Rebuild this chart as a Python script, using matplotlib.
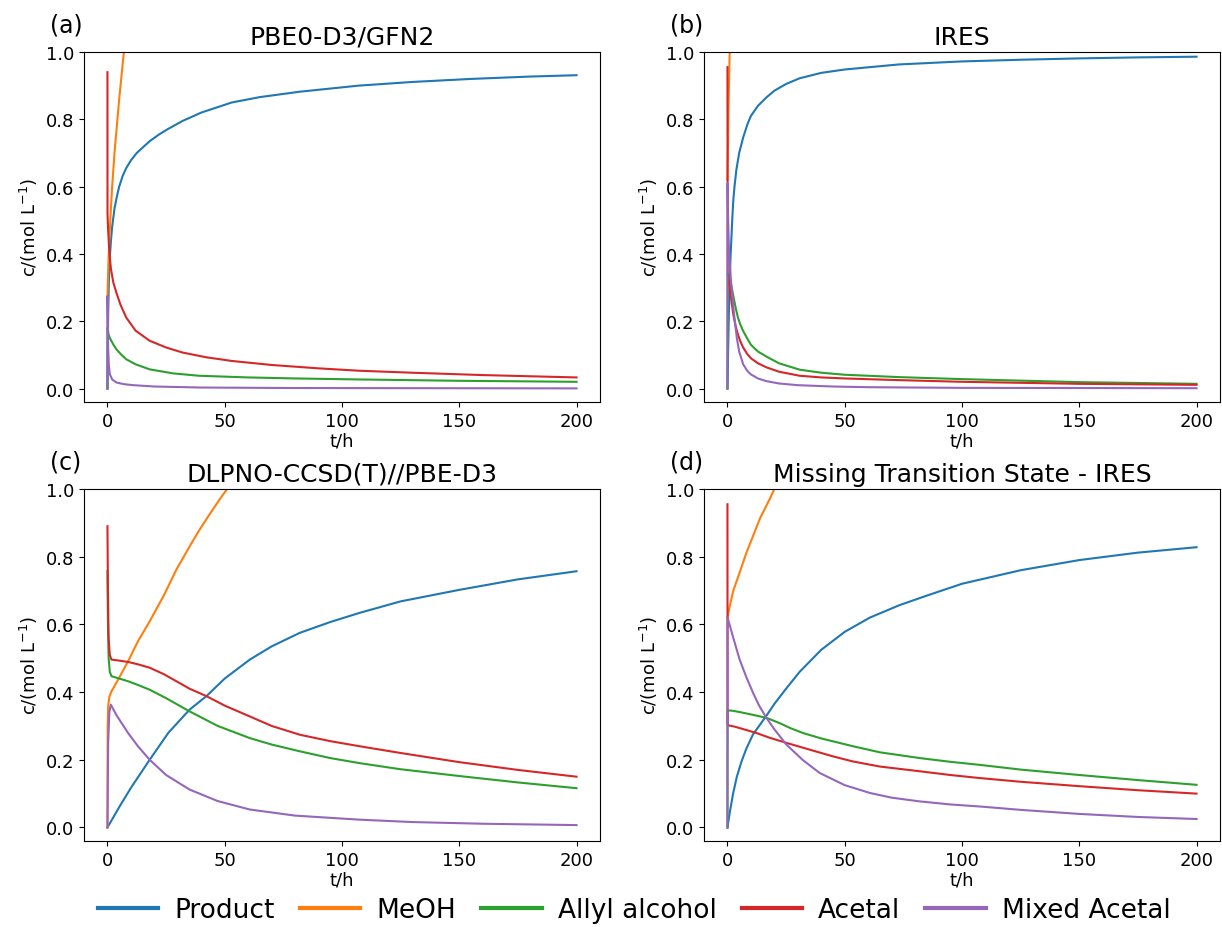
import matplotlib
matplotlib.use("Agg")
import matplotlib.pyplot as plt

names = ["Product", "MeOH", "Allyl alcohol", "Acetal", "Mixed Acetal"]
colors = ["tab:blue", "tab:orange", "tab:green", "tab:red", "tab:purple"]

# (a) PBE0-D3/GFN2
a_prod_t = [0, 0.3, 0.6, 1, 1.5, 2, 3, 4, 5, 6.5, 8, 10, 12.5, 15, 18, 22, 26, 32, 40, 53, 65, 82, 107, 130, 155, 180, 200]
a_prod_c = [0, 0.22, 0.32, 0.39, 0.44, 0.48, 0.535, 0.57, 0.6, 0.632, 0.655, 0.678, 0.7, 0.716, 0.735, 0.755, 0.772,
            0.795, 0.82, 0.85, 0.866, 0.882, 0.9, 0.911, 0.92, 0.927, 0.931]
a_meoh_t = [0, 0.3, 0.6, 1, 1.5, 2, 3, 4, 5, 6, 7, 8]
a_meoh_c = [0.275, 0.35, 0.41, 0.47, 0.54, 0.6, 0.7, 0.78, 0.86, 0.93, 1.0, 1.06]
a_allyl_t = [0, 0.05, 0.5, 1, 2.4, 4, 6, 8, 12, 18, 28, 39, 60, 80, 107, 150, 200]
a_allyl_c = [0, 0.181, 0.16, 0.15, 0.132, 0.115, 0.1, 0.087, 0.072, 0.057, 0.045, 0.038, 0.033, 0.03, 0.027, 0.023, 0.02]
a_acetal_t = [0, 0.02, 0.3, 0.6, 1, 1.5, 2.5, 3.8, 5.5, 8, 12, 18, 25, 32, 42, 53, 70, 90, 107, 130, 160, 200]
a_acetal_c = [0.94, 0.52, 0.47, 0.43, 0.39, 0.355, 0.315, 0.285, 0.25, 0.211, 0.172, 0.142, 0.122, 0.107, 0.093,
              0.082, 0.07, 0.06, 0.053, 0.047, 0.04, 0.033]
a_mixed_t = [0, 0.03, 0.3, 0.6, 1, 2, 3.8, 7, 11, 20, 40, 80, 200]
a_mixed_c = [0, 0.275, 0.12, 0.07, 0.043, 0.027, 0.018, 0.013, 0.01, 0.006, 0.003, 0.0015, 0.0005]

# (b) IRES
b_prod_t = [0, 0.3, 0.6, 1, 1.3, 1.7, 2.1, 2.5, 3, 3.8, 5, 6.7, 8.5, 10, 13, 16.6, 20, 25, 30.8, 40, 50, 73, 100,
            125, 150, 175, 200]
b_prod_c = [0, 0.12, 0.22, 0.32, 0.39, 0.45, 0.51, 0.56, 0.6, 0.65, 0.7, 0.746, 0.785, 0.81, 0.84, 0.865, 0.885,
            0.905, 0.922, 0.938, 0.948, 0.963, 0.972, 0.977, 0.981, 0.984, 0.986]
b_meoh_t = [0, 0.5, 1, 1.5]
b_meoh_c = [0.62, 0.85, 1.02, 1.15]
b_allyl_t = [0, 0.1, 0.5, 1, 1.7, 2.5, 3.5, 4.5, 5.5, 6.7, 8.5, 10, 13, 16.6, 22, 30.8, 40, 50, 73, 100, 150, 200]
b_allyl_c = [0, 0.34, 0.335, 0.325, 0.305, 0.275, 0.24, 0.21, 0.19, 0.171, 0.148, 0.13, 0.11, 0.095, 0.075, 0.056,
             0.047, 0.041, 0.034, 0.028, 0.019, 0.014]
b_acetal_t = [0, 0.1, 0.5, 1, 1.7, 2.5, 3.5, 4.5, 5.5, 6.7, 8.5, 10, 13, 16.6, 22, 30.8, 40, 50, 73, 100, 150, 200]
b_acetal_c = [0.955, 0.34, 0.32, 0.295, 0.26, 0.22, 0.185, 0.16, 0.14, 0.122, 0.102, 0.09, 0.075, 0.063, 0.05,
              0.038, 0.033, 0.03, 0.025, 0.02, 0.014, 0.011]
b_mixed_t = [0, 0.05, 0.3, 0.6, 1, 1.5, 2, 2.4, 3, 4, 5, 6.7, 8.5, 10, 13, 16.6, 22, 30, 45, 60, 100, 200]
b_mixed_c = [0, 0.61, 0.5, 0.42, 0.37, 0.32, 0.28, 0.25, 0.21, 0.15, 0.11, 0.072, 0.052, 0.042, 0.03, 0.022, 0.015,
             0.01, 0.006, 0.004, 0.002, 0.001]

# (c) DLPNO-CCSD(T)//PBE-D3
c_prod_t = [0, 5, 10, 18, 26, 35, 42.2, 50, 60.7, 70, 82, 95, 107.5, 125, 150, 175, 200]
c_prod_c = [0, 0.06, 0.117, 0.2, 0.28, 0.348, 0.388, 0.44, 0.496, 0.535, 0.575, 0.607, 0.634, 0.668, 0.702, 0.733, 0.757]
c_meoh_t = [0, 0.1, 0.3, 0.8, 1.7, 4, 8.8, 13, 18, 24, 29.4, 35, 39.3, 44, 47.9, 51, 55]
c_meoh_c = [0, 0.3, 0.358, 0.385, 0.402, 0.43, 0.491, 0.55, 0.609, 0.685, 0.762, 0.83, 0.88, 0.93, 0.97, 1.0, 1.04]
c_allyl_t = [0, 0.2, 0.5, 1, 1.7, 5, 8.8, 13, 18, 25, 35, 47, 60.7, 70, 82, 95, 107.5, 125, 150, 175, 200]
c_allyl_c = [0.757, 0.6, 0.5, 0.46, 0.447, 0.44, 0.432, 0.421, 0.407, 0.382, 0.343, 0.3, 0.264, 0.245, 0.225, 0.205,
             0.19, 0.172, 0.152, 0.133, 0.116]
c_acetal_t = [0, 0.2, 0.5, 1, 1.7, 5, 8.8, 13, 18, 24, 29.4, 35, 42.2, 50, 60.7, 70, 82, 95, 107.5, 125, 150, 175, 200]
c_acetal_c = [0.89, 0.7, 0.56, 0.51, 0.496, 0.493, 0.489, 0.482, 0.472, 0.453, 0.432, 0.41, 0.388, 0.36, 0.328, 0.3,
              0.274, 0.255, 0.24, 0.22, 0.193, 0.17, 0.15]
c_mixed_t = [0, 0.3, 0.8, 1.4, 4, 8.8, 13, 18, 25, 35, 47, 60.7, 80, 107.5, 130, 160, 200]
c_mixed_c = [0, 0.25, 0.34, 0.363, 0.33, 0.279, 0.24, 0.2, 0.155, 0.112, 0.078, 0.053, 0.035, 0.023, 0.016, 0.011, 0.007]

# (d) Missing Transition State - IRES
d_prod_t = [0, 1, 2.4, 4, 6, 8, 10.9, 13.5, 16.6, 20, 25, 30.8, 40, 50, 60.7, 73.4, 85, 100, 125, 150, 175, 200]
d_prod_c = [0, 0.045, 0.1, 0.15, 0.195, 0.232, 0.275, 0.3, 0.33, 0.365, 0.41, 0.46, 0.525, 0.578, 0.62, 0.657, 0.685,
            0.72, 0.76, 0.79, 0.812, 0.828]
d_meoh_t = [0, 1, 2.5, 5.2, 8, 10.9, 14, 18, 20, 23]
d_meoh_c = [0.62, 0.655, 0.7, 0.753, 0.81, 0.861, 0.915, 0.97, 1.0, 1.04]
d_allyl_t = [0, 0.05, 2, 5.2, 10, 16.6, 22, 27, 32.2, 40, 53.5, 65, 82, 95, 107.5, 125, 150, 175, 200]
d_allyl_c = [0, 0.346, 0.345, 0.341, 0.334, 0.324, 0.309, 0.293, 0.279, 0.263, 0.24, 0.222, 0.205, 0.194, 0.185,
             0.171, 0.155, 0.14, 0.126]
d_acetal_t = [0, 0.05, 3, 7, 12.4, 18, 25.1, 35, 45, 53.5, 65, 82, 95, 107.5, 125, 150, 175, 200]
d_acetal_c = [0.955, 0.302, 0.298, 0.29, 0.279, 0.265, 0.25, 0.23, 0.21, 0.195, 0.18, 0.166, 0.155, 0.146, 0.135,
              0.122, 0.11, 0.1]
d_mixed_t = [0, 0.05, 2.5, 5.2, 8, 10.9, 13.5, 16.6, 20, 25.1, 32, 39.3, 50, 60.7, 70, 82, 95, 107.5, 125, 150, 175, 200]
d_mixed_c = [0, 0.62, 0.56, 0.496, 0.445, 0.398, 0.36, 0.324, 0.29, 0.245, 0.2, 0.161, 0.125, 0.102, 0.088, 0.077,
             0.068, 0.062, 0.052, 0.04, 0.031, 0.025]

panels = [
    ("(a)", "PBE0-D3/GFN2",
     [(a_prod_t, a_prod_c), (a_meoh_t, a_meoh_c), (a_allyl_t, a_allyl_c), (a_acetal_t, a_acetal_c), (a_mixed_t, a_mixed_c)]),
    ("(b)", "IRES",
     [(b_prod_t, b_prod_c), (b_meoh_t, b_meoh_c), (b_allyl_t, b_allyl_c), (b_acetal_t, b_acetal_c), (b_mixed_t, b_mixed_c)]),
    ("(c)", "DLPNO-CCSD(T)//PBE-D3",
     [(c_prod_t, c_prod_c), (c_meoh_t, c_meoh_c), (c_allyl_t, c_allyl_c), (c_acetal_t, c_acetal_c), (c_mixed_t, c_mixed_c)]),
    ("(d)", "Missing Transition State - IRES",
     [(d_prod_t, d_prod_c), (d_meoh_t, d_meoh_c), (d_allyl_t, d_allyl_c), (d_acetal_t, d_acetal_c), (d_mixed_t, d_mixed_c)]),
]

fig = plt.figure(figsize=(12.22, 9.28), dpi=100)
W, H = 1222, 928
boxes = [(84, 53, 600, 403), (704, 53, 1220, 403), (84, 490, 600, 842), (704, 490, 1220, 842)]

for (lab, title, series), (x0, y0, x1, y1) in zip(panels, boxes):
    ax = fig.add_axes([x0 / W, 1 - y1 / H, (x1 - x0) / W, (y1 - y0) / H])
    for (t, c), name, col in zip(series, names, colors):
        ax.plot(t, c, color=col, lw=1.5, label=name)
    ax.set_xlim(-10, 210)
    ax.set_ylim(-0.04, 1.0)
    ax.set_xticks([0, 50, 100, 150, 200])
    ax.set_yticks([0.0, 0.2, 0.4, 0.6, 0.8, 1.0])
    ax.tick_params(labelsize=13)
    ax.set_title(title, fontsize=18)
    ax.set_xlabel("t/h", fontsize=13, labelpad=1)
    ax.set_ylabel("c/(mol L$^{-1}$)", fontsize=13)
    ax.text(-0.066, 1.045, lab, transform=ax.transAxes, fontsize=17, ha="left", va="bottom")

handles, labels = ax.get_legend_handles_labels()
leg = fig.legend(handles, labels, loc="lower center", ncol=5, frameon=False, fontsize=19,
                 bbox_to_anchor=(0.519, -0.021), handlelength=2.3, handletextpad=0.6, columnspacing=0.95)
for line in leg.get_lines():
    line.set_linewidth(3)

fig.savefig("out.png", dpi=100)
